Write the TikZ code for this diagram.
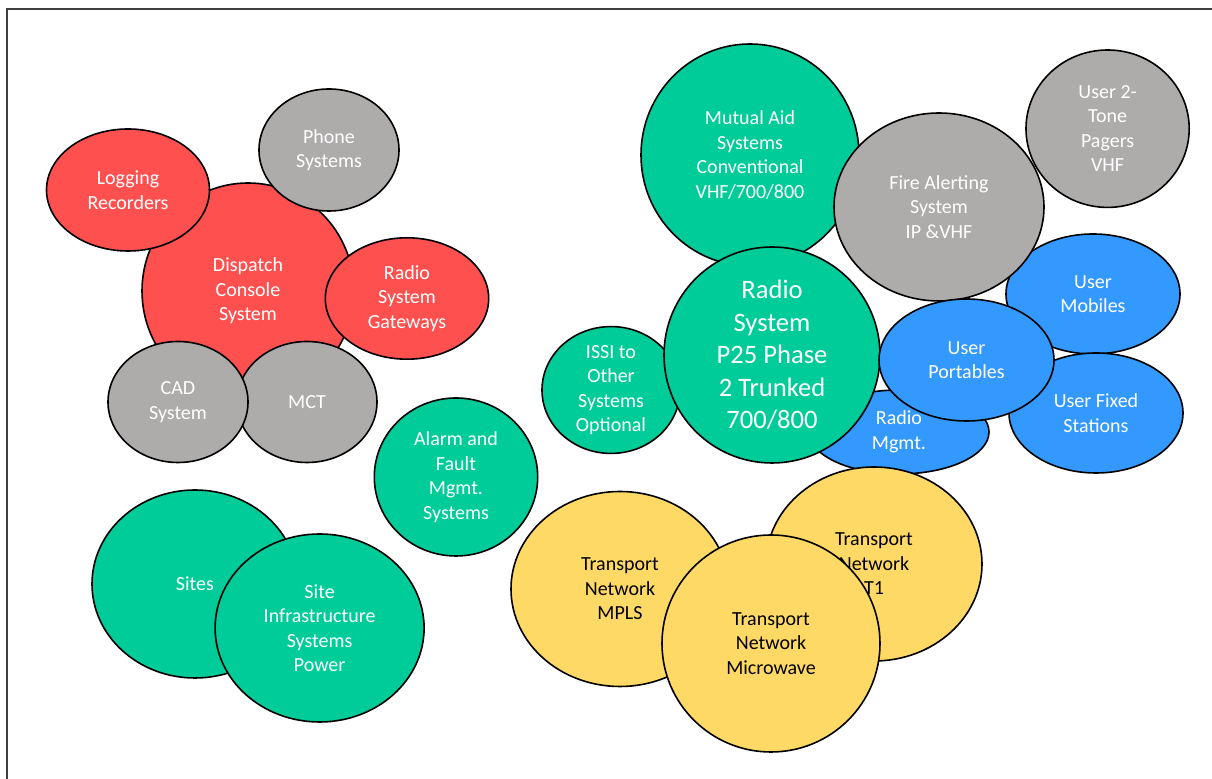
\documentclass[tikz,border=0pt]{standalone}
\usepackage{fontspec}
\setmainfont{Carlito}
\usepackage{tikz}
\usetikzlibrary{shapes.geometric}

\definecolor{bubred}{HTML}{FF5050}
\definecolor{bubgrey}{HTML}{AEABAB}
\definecolor{bubgreen}{HTML}{00CC99}
\definecolor{bubblue}{HTML}{3399FF}
\definecolor{bubyellow}{HTML}{FFD966}

\begin{document}
\begin{tikzpicture}[x=0.5pt,y=-0.5pt,
	bubble/.style={ellipse,draw=black,line width=0.8pt,inner sep=0pt,align=center,
		text=white,font=\fontsize{10}{12.25}\selectfont},
	sz/.style 2 args={minimum width=#1pt,minimum height=#2pt},
	red/.style={bubble,fill=bubred},
	grey/.style={bubble,fill=bubgrey},
	green/.style={bubble,fill=bubgreen},
	blue/.style={bubble,fill=bubblue},
	yellow/.style={bubble,fill=bubyellow,text=black}]
	\useasboundingbox (0,0) rectangle (1212,779);
	\draw[line width=1pt,black!75] (7,779) -- (7,9) -- (1212,9);

	% dispatch group
	\node[red,sz={106}{108}] (dispatch) at (248,291) {Dispatch\\Console\\System};
	\node[red,sz={81.5}{61}] (logging) at (128,190) {Logging\\Recorders};
	\node[grey,sz={70}{61}] (phone) at (329,150) {Phone\\Systems};
	\node[red,sz={81.7}{60.7}] (gateways) at (407,298.5) {Radio\\System\\Gateways};
	\node[grey,sz={70}{60.5}] (mct) at (307,402) {MCT};
	\node[grey,sz={70}{60.5}] (cad) at (178,402) {CAD\\System};

	\node[green,sz={81.7}{79}] (alarm) at (456,477) {Alarm and\\Fault\\Mgmt.\\Systems};
	\node[green,sz={103}{94}] (sites) at (195,584) {Sites};
	\node[green,sz={104.5}{94}] (siteinfra) at (319.6,628) {Site\\Infrastructure\\Systems\\Power};

	% radio system group
	\node[green,sz={109}{111}] (mutualaid) at (750,155) {Mutual Aid\\Systems\\Conventional\\VHF/700/800};
	\node[green,sz={69}{60.5}] (issi) at (611,390) {ISSI to\\Other\\Systems\\Optional};
	\node[blue,sz={90}{42}] (radiomgmt) at (899,432) {Radio\\Mgmt.};
	\node[green,sz={108}{108},font=\fontsize{13.3}{16.25}\selectfont] (radiosys) at (772,355)
		{Radio\\System\\P25 Phase\\2 Trunked\\700/800};
	\node[blue,sz={87}{60}] (mobiles) at (1093,294) {User\\Mobiles};
	\node[blue,sz={87}{60}] (fixed) at (1096,413) {User Fixed\\Stations};
	\node[grey,sz={105}{94}] (firealert) at (939,207) {Fire Alerting\\System\\IP \&VHF};
	\node[blue,sz={87.5}{61}] (portables) at (966.5,360) {User\\Portables};
	\node[grey,sz={81.6}{78.7}] (pagers) at (1107.6,128.7) {User 2-\\Tone\\Pagers\\VHF};

	% transport
	\node[yellow,sz={109}{97.5}] (mpls) at (620,589) {Transport\\Network\\MPLS};
	\node[yellow,sz={108}{97}] (tone) at (874,564) {Transport\\Network\\T1};
	\node[yellow,sz={109}{108.5}] (microwave) at (771,643.5) {Transport\\Network\\Microwave};
\end{tikzpicture}
\end{document}
